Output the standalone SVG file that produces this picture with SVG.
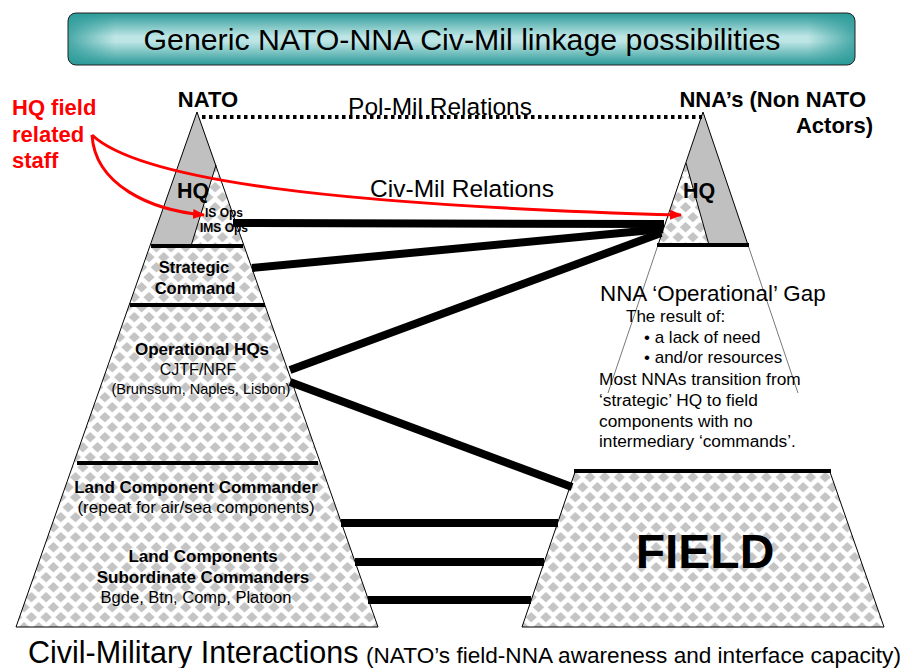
<svg xmlns="http://www.w3.org/2000/svg" width="901" height="668" viewBox="0 0 901 668">
<defs>
<pattern id="chk" patternUnits="userSpaceOnUse" width="14.7" height="20" x="2" y="2">
<rect width="14.7" height="20" fill="#fff"/>
<path d="M7.35,0 L13,5.2 L7.35,10.4 L1.7,5.2Z M0,10 L5.65,15.2 L0,20.4 L-5.65,15.2Z M14.7,10 L20.35,15.2 L14.7,20.4 L9.05,15.2Z M0,-10 L5.65,-4.8 L0,0.4 L-5.65,-4.8Z M14.7,-10 L20.35,-4.8 L14.7,0.4 L9.05,-4.8Z" fill="#c4c4c4"/>
</pattern>
<linearGradient id="tv" x1="0" y1="0" x2="0" y2="1">
<stop offset="0" stop-color="#2a9a98"/>
<stop offset="0.45" stop-color="#bde5e5"/>
<stop offset="0.55" stop-color="#bde5e5"/>
<stop offset="1" stop-color="#2a9a98"/>
</linearGradient>
<linearGradient id="th" x1="0" y1="0" x2="1" y2="0">
<stop offset="0" stop-color="#2a9a98" stop-opacity="0.8"/>
<stop offset="0.06" stop-color="#2a9a98" stop-opacity="0"/>
<stop offset="0.94" stop-color="#2a9a98" stop-opacity="0"/>
<stop offset="1" stop-color="#2a9a98" stop-opacity="0.8"/>
</linearGradient>
<marker id="ar" markerWidth="12" markerHeight="10" refX="11" refY="5" orient="auto" markerUnits="userSpaceOnUse">
<path d="M0,0 L12,5 L0,10Z" fill="#ff0000"/>
</marker>
</defs>
<style>
text{font-family:"Liberation Sans",Arial,Helvetica,sans-serif;fill:#000}
.b{font-weight:bold}
.m{text-anchor:middle}
.e{text-anchor:end}
.thin{fill:none;stroke:#000;stroke-width:1}
.sep{stroke:#000;stroke-width:4}
.con{stroke:#000;stroke-width:8;fill:none}
.red{stroke:#ff0000;stroke-width:3;fill:none}
.chk{fill:url(#chk)}
.gray{fill:#c0c0c0}
</style>

<g id="title">
<rect x="68" y="13" width="787" height="52" rx="8" fill="url(#tv)"/>
<rect x="68" y="13" width="787" height="52" rx="8" fill="url(#th)" stroke="#222" stroke-width="1"/>
<text x="462" y="50" class="m" font-size="30.3">Generic NATO-NNA Civ-Mil linkage possibilities</text>
</g>

<g id="nato">
<polygon class="chk" points="197,112 378,627 16,627"/>
<polygon class="gray" points="197,112 216,165 191,246 150,246"/>
<polygon class="thin" points="197,112 378,627 16,627"/>
<line class="thin" x1="216" y1="165" x2="191" y2="246"/>
<line class="sep" x1="151" y1="246" x2="243" y2="246"/>
<line class="sep" x1="130" y1="305" x2="265" y2="305"/>
<line class="sep" x1="77" y1="463" x2="318" y2="463"/>
<text x="208" y="107" class="b m" font-size="22">NATO</text>
</g>

<g id="nna">
<polygon class="chk" points="686,163 709,245 658,245"/>
<polygon class="gray" points="703,112 748,245 709,245 686,163"/>
<polygon class="thin" points="703,112 748,245 658,245"/>
<line class="thin" x1="686" y1="163" x2="709" y2="245"/>
<line x1="658" y1="245" x2="608" y2="393" stroke="#555" stroke-width="0.8"/>
<line x1="748" y1="245" x2="798" y2="393" stroke="#555" stroke-width="0.8"/>
<line class="sep" x1="657" y1="245" x2="749" y2="245"/>
<text x="866" y="107" class="b e" font-size="22">NNA’s (Non NATO</text>
<text x="873" y="133" class="b e" font-size="22">Actors)</text>
</g>

<g id="field">
<polygon class="chk" points="575,472 830,472 884,627 522,627"/>
<polygon class="thin" points="575,472 830,472 884,627 522,627"/>
<line class="sep" x1="574" y1="471" x2="831" y2="471"/>
<text x="705" y="568" class="b m" font-size="48">FIELD</text>
</g>

<g id="connectors">
<line x1="202" y1="117" x2="702" y2="117" stroke="#000" stroke-width="4" stroke-dasharray="3.5 3.5"/>
<line class="con" x1="233" y1="223" x2="664" y2="224"/>
<line class="con" x1="252" y1="268" x2="663" y2="229"/>
<line class="con" x1="290" y1="370" x2="661" y2="233"/>
<line class="con" x1="290" y1="382" x2="572" y2="487"/>
<line class="con" x1="341" y1="523" x2="558" y2="523"/>
<line class="con" x1="355" y1="562" x2="544" y2="562"/>
<line class="con" x1="368" y1="600" x2="531" y2="600"/>
</g>

<g id="nato-labels">
<text x="193" y="198" class="b m" font-size="21.5">HQ</text>
<text x="224" y="217" class="b m" font-size="12">IS Ops</text>
<text x="224" y="232" class="b m" font-size="12">IMS Ops</text>
<text x="194" y="273" class="b m" font-size="16.5">Strategic</text>
<text x="195" y="294" class="b m" font-size="16.5">Command</text>
<text x="202" y="355" class="b m" font-size="17">Operational HQs</text>
<text x="198" y="375" class="m" font-size="16">CJTF/NRF</text>
<text x="201" y="394" class="m" font-size="14.5">(Brunssum, Naples, Lisbon)</text>
<text x="196" y="493" class="b m" font-size="17">Land Component Commander</text>
<text x="196" y="513" class="m" font-size="17">(repeat for air/sea components)</text>
<text x="203" y="562" class="b m" font-size="17">Land Components</text>
<text x="203" y="583" class="b m" font-size="17">Subordinate Commanders</text>
<text x="196" y="603" class="m" font-size="16.5">Bgde, Btn, Comp, Platoon</text>
</g>

<g id="nna-labels">
<text x="699" y="198" class="b m" font-size="21.5">HQ</text>
<text x="600" y="301" font-size="22.4">NNA ‘Operational’ Gap</text>
<text x="626" y="322" font-size="17">The result of:</text>
<text x="644" y="343" font-size="17">• a lack of need</text>
<text x="644" y="363" font-size="17">• and/or resources</text>
<text x="599" y="385" font-size="17.3">Most NNAs transition from</text>
<text x="599" y="406" font-size="17.3">‘strategic’ HQ to field</text>
<text x="599" y="427" font-size="17.3">components with no</text>
<text x="599" y="447" font-size="17.3">intermediary ‘commands’.</text>
</g>

<g id="relations">
<text x="440" y="115" class="m" font-size="24.5">Pol-Mil Relations</text>
<text x="462" y="197" class="m" font-size="24.5">Civ-Mil Relations</text>
</g>

<g id="staff">
<text x="12" y="115" class="b" font-size="22" style="fill:#ff0000">HQ field</text>
<text x="12" y="142" class="b" font-size="22" style="fill:#ff0000">related</text>
<text x="12" y="168" class="b" font-size="22" style="fill:#ff0000">staff</text>
<path class="red" d="M92,135 C95,185 150,210 204,215" marker-end="url(#ar)"/>
<path class="red" d="M92,135 C140,180 330,205 681,215" marker-end="url(#ar)"/>
</g>

<g id="caption">
<text x="28" y="663" font-size="30.5">Civil-Military Interactions</text>
<text x="366" y="663" font-size="22.6">(NATO’s field-NNA awareness and interface capacity)</text>
</g>
</svg>
